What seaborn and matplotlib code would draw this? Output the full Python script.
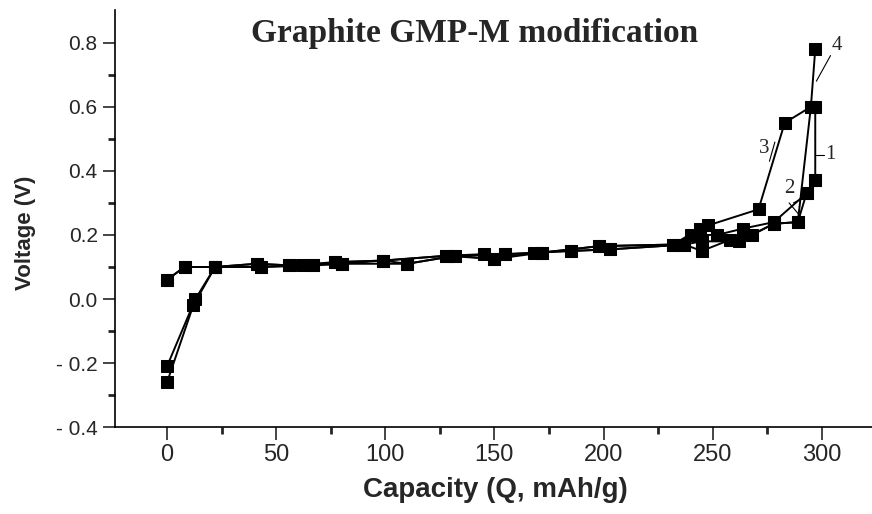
import numpy as np
import pandas as pd
import matplotlib
matplotlib.use("Agg")
import matplotlib.pyplot as plt
import seaborn as sns

# curve data (capacity mAh/g, voltage V)
q1 = [0, 13, 22, 43, 62, 80, 99, 110, 132, 150, 168, 185, 203, 237, 245, 258, 268, 278, 289, 293, 297, 297]
v1 = [-0.21, 0.0, 0.10, 0.10, 0.105, 0.11, 0.12, 0.11, 0.135, 0.125, 0.145, 0.15, 0.155, 0.17, 0.15, 0.185, 0.20, 0.235, 0.24, 0.33, 0.37, 0.60]

q2 = [0, 12, 22, 41, 56, 67, 77, 99, 128, 145, 155, 172, 198, 232, 240, 252, 264, 278, 293, 297]
v2 = [-0.26, -0.02, 0.10, 0.11, 0.105, 0.105, 0.115, 0.12, 0.135, 0.14, 0.14, 0.145, 0.165, 0.17, 0.20, 0.20, 0.22, 0.24, 0.33, 0.37]

q3 = [0, 8, 22, 41, 56, 77, 99, 128, 150, 172, 198, 232, 244, 248, 271, 283, 295]
v3 = [0.06, 0.10, 0.10, 0.11, 0.105, 0.115, 0.12, 0.135, 0.125, 0.145, 0.165, 0.17, 0.22, 0.23, 0.28, 0.55, 0.60]

q4 = [0, 8, 22, 43, 67, 80, 110, 132, 155, 185, 203, 237, 245, 262, 278, 289, 295, 297]
v4 = [0.06, 0.10, 0.10, 0.10, 0.105, 0.11, 0.11, 0.135, 0.14, 0.15, 0.155, 0.17, 0.18, 0.18, 0.235, 0.24, 0.60, 0.78]

yticks = [-0.4, -0.2, 0.0, 0.2, 0.4, 0.6, 0.8]
ylabels = ["- 0.4", "- 0.2", "0.0", "0.2", "0.4", "0.6", "0.8"]
xticks = [0, 50, 100, 150, 200, 250, 300]

sns.set_style("ticks")
plt.rcParams["font.family"] = ["Liberation Sans", "DejaVu Sans"]

fig = plt.figure(figsize=(8.72, 5.14), dpi=100)
ax = fig.add_axes([0.132, 0.169, 0.868, 0.812])

for q, v in [(q1, v1), (q2, v2), (q3, v3), (q4, v4)]:
    df = pd.DataFrame({"Q": q, "V": v})
    sns.lineplot(data=df, x="Q", y="V", ax=ax, sort=False, estimator=None,
                 color="black", linewidth=1.4, marker="s", markersize=8,
                 markeredgecolor="black", markerfacecolor="black")

ax.set_xlim(-23.8, 323)
ax.set_ylim(-0.4, 0.903)
ax.set_yticks(yticks)
ax.set_yticklabels(ylabels)
ax.set_xticks(xticks)
ax.set_xticks(np.arange(25, 300, 50), minor=True)
ax.set_yticks([-0.3, -0.1, 0.1, 0.3, 0.5, 0.7], minor=True)
ax.tick_params(axis="both", which="major", length=9, width=1.2, direction="out")
ax.tick_params(axis="both", which="minor", length=5, width=2, direction="out")
ax.tick_params(axis="y", labelsize=15)
ax.tick_params(axis="x", labelsize=17)

sns.despine(ax=ax)
for s in ["left", "bottom"]:
    ax.spines[s].set_linewidth(1.2)
    ax.spines[s].set_color("black")

ax.set_xlabel("Capacity (Q, mAh/g)", fontsize=20, fontweight="bold")
ax.set_ylabel("Voltage (V)", fontsize=16, fontweight="bold")
ax.xaxis.set_label_coords(0.502, -0.12)
ax.yaxis.set_label_coords(-0.104, 0.465)

ax.text(141, 0.83, "Graphite GMP-M modification", family="Liberation Serif",
        fontsize=24, fontweight="bold", ha="center", va="center")

# curve number labels with leader lines
lab_kw = dict(family="Liberation Serif", fontsize=15, ha="center", va="center")
ax.text(307, 0.79, "4", **lab_kw)
ax.plot([304, 297.5], [0.76, 0.68], color="black", lw=0.8)
ax.text(304, 0.45, "1", **lab_kw)
ax.plot([301, 297.5], [0.45, 0.45], color="black", lw=0.8)
ax.text(273.5, 0.47, "3", **lab_kw)
ax.plot([276, 278.5], [0.43, 0.49], color="black", lw=0.8)
ax.text(285, 0.345, "2", **lab_kw)
ax.plot([285, 290], [0.30, 0.26], color="black", lw=0.8)
ax.plot([287, 293], [0.30, 0.32], color="black", lw=0.8)

fig.savefig("out.png", dpi=100)
